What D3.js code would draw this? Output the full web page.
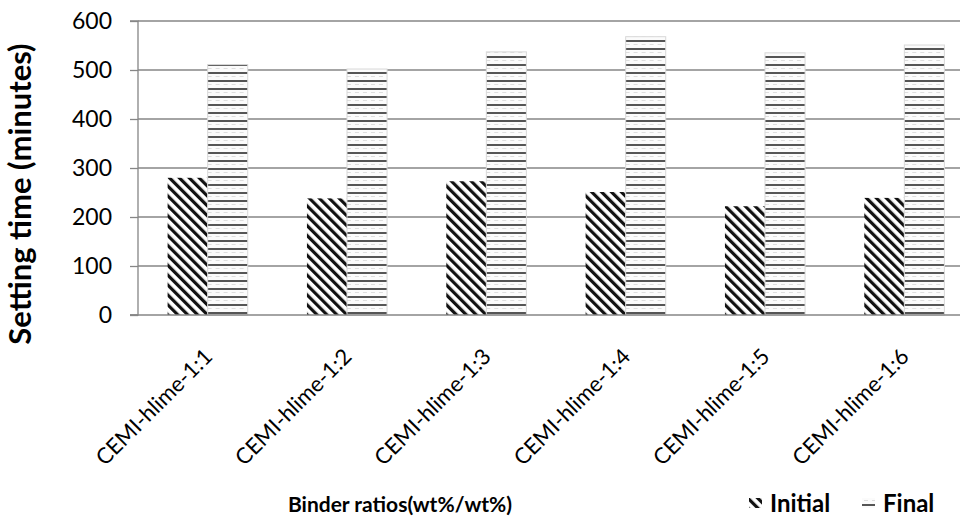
<!DOCTYPE html>
<html><head><meta charset="utf-8">
<script src="https://cdn.jsdelivr.net/npm/d3@7"></script>
<style>body{margin:0;background:#fff}svg{display:block;font-family:Lato,"Open Sans",sans-serif}</style>
</head><body>
<svg id="c" width="960" height="522"></svg>
<script>
const categories = ["CEMI-hlime-1:1","CEMI-hlime-1:2","CEMI-hlime-1:3","CEMI-hlime-1:4","CEMI-hlime-1:5","CEMI-hlime-1:6"];
const seriesNames = ["Initial","Final"];
const initialValues = [280, 238, 273, 251, 222, 239];
const finalValues = [511, 502, 537, 568, 535, 551];
const yTicks = [0,100,200,300,400,500,600];

const svg = d3.select("#c");
const defs = svg.append("defs");
const pd = defs.append("pattern").attr("id","pDiag").attr("patternUnits","userSpaceOnUse")
  .attr("width",7).attr("height",7).attr("patternTransform","rotate(-45)");
pd.append("rect").attr("width",7).attr("height",7).attr("fill","#fff");
pd.append("rect").attr("x",0).attr("width",3.2).attr("height",7).attr("fill","#111");
const ph = defs.append("pattern").attr("id","pHor").attr("patternUnits","userSpaceOnUse")
  .attr("width",8).attr("height",8);
ph.append("rect").attr("width",8).attr("height",8).attr("fill","#fbfbfb");
ph.append("rect").attr("y",0).attr("width",8).attr("height",2).attr("fill","#555");
ph.append("rect").attr("y",4).attr("width",4).attr("height",1).attr("fill","#ddd");

const mLeft = 138, mRight = 974, mTop = 21, mBottom = 315;
const y = d3.scaleLinear().domain([0,600]).range([mBottom, mTop]);
const x0 = d3.scaleBand().domain(categories).range([mLeft, mRight]).paddingInner(0.425).paddingOuter(0.2125);
const x1 = d3.scaleBand().domain(seriesNames).range([0, x0.bandwidth()]);

// gridlines
svg.append("g").selectAll("line").data(yTicks.filter(d=>d>0)).join("line")
  .attr("x1",mLeft).attr("x2",960).attr("y1",d=>y(d)).attr("y2",d=>y(d))
  .attr("stroke","#868686").attr("stroke-width",1.3);

const data = categories.map((c,i)=>({c, vals:[{s:"Initial",v:initialValues[i]},{s:"Final",v:finalValues[i]}]}));
const g = svg.append("g");
const grp = g.selectAll("g").data(data).join("g").attr("transform",d=>`translate(${x0(d.c)},0)`);
grp.selectAll("rect").data(d=>d.vals).join("rect")
  .attr("x",d=>x1(d.s)).attr("width",x1.bandwidth())
  .attr("y",d=>y(d.v)).attr("height",d=>y(0)-y(d.v))
  .attr("fill",d=>d.s==="Initial"?"url(#pDiag)":"url(#pHor)")
  .attr("stroke",d=>d.s==="Initial"?"none":"#d8d8d8").attr("stroke-width",1);

// y axis
const ya = svg.append("g").attr("transform",`translate(${mLeft},0)`)
  .call(d3.axisLeft(y).tickValues(yTicks).tickSize(8).tickPadding(18));
ya.select(".domain").attr("stroke","#868686").attr("stroke-width",1.3).attr("d",`M-8,${mTop}H0V${mBottom}H-8`);
ya.selectAll(".tick line").attr("stroke","#868686").attr("stroke-width",1.3);
ya.selectAll(".tick text").attr("font-size",23).attr("fill","#000").attr("font-family","Lato, sans-serif");

// x axis line
svg.append("line").attr("x1",mLeft-8).attr("x2",960).attr("y1",mBottom).attr("y2",mBottom)
  .attr("stroke","#868686").attr("stroke-width",1.3);

// x labels
svg.append("g").selectAll("text").data(categories).join("text")
  .attr("transform",d=>`translate(${x0(d)+x0.bandwidth()/2+6},${mBottom+43}) rotate(-45)`)
  .attr("text-anchor","end").attr("font-size",22).attr("fill","#000").text(d=>d);

// axis titles
svg.append("text").attr("transform",`translate(31,194) rotate(-90)`)
  .attr("text-anchor","middle").attr("font-size",31).attr("font-weight","bold").text("Setting time (minutes)");
svg.append("text").attr("x",400).attr("y",512).attr("text-anchor","middle")
  .attr("font-size",21).attr("font-weight","bold").text("Binder ratios(wt%/wt%)");

// legend
const leg = svg.append("g");
const legItems = [{s:"Initial",x:749,fill:"url(#pDiag)"},{s:"Final",x:862,fill:"url(#pHor)"}];
legItems.forEach(it=>{
  leg.append("rect").attr("x",it.x).attr("y",498).attr("width",13).attr("height",10).attr("fill",it.fill);
  leg.append("text").attr("x",it.x+21).attr("y",512).attr("font-size",24).attr("font-weight","bold").text(it.s);
});
</script>
</body></html>
